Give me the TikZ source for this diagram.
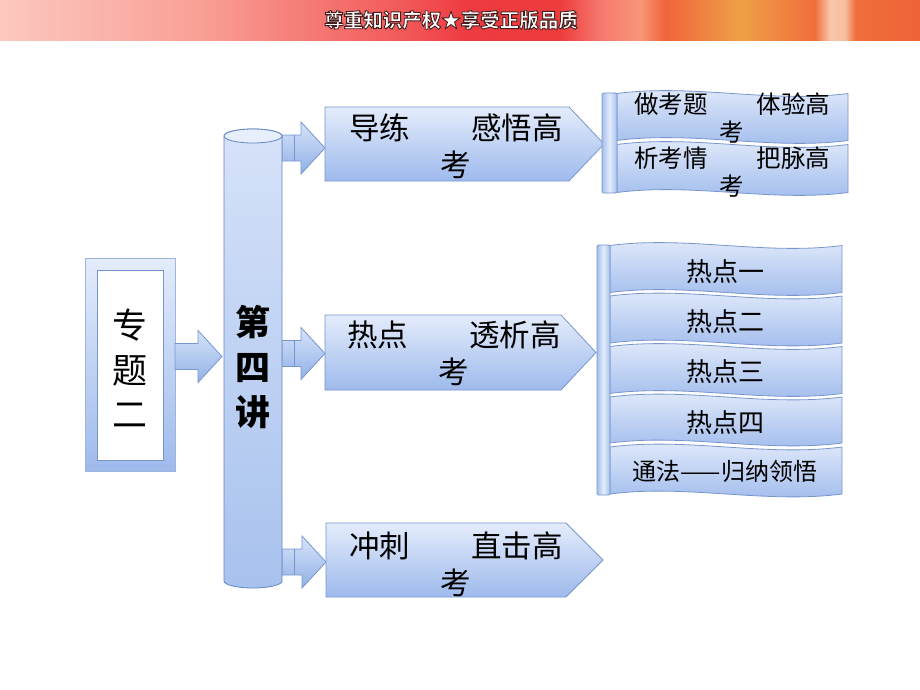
\documentclass[tikz,border=0pt]{standalone}
\usepackage{fontspec}
\newfontfamily\cjk{Noto Sans CJK SC}
\usetikzlibrary{calc}
\definecolor{bordc}{RGB}{120,150,205}
\definecolor{fillT}{RGB}{228,236,251}
\definecolor{fillB}{RGB}{158,186,236}
\definecolor{arrT}{RGB}{214,228,250}
\definecolor{arrB}{RGB}{145,176,230}
\definecolor{cylT}{RGB}{214,226,248}
\definecolor{cylB}{RGB}{168,194,238}
\definecolor{cylE}{RGB}{232,239,252}
\definecolor{cylD}{RGB}{100,135,195}
\definecolor{barE}{RGB}{165,192,238}
\definecolor{barM}{RGB}{228,236,251}
\pgfdeclarehorizontalshading{banner}{100bp}{%
rgb(0bp)=(0.988,0.784,0.753);
rgb(25bp)=(0.988,0.784,0.753);
rgb(35.87bp)=(0.976,0.627,0.588);
rgb(46.74bp)=(0.949,0.353,0.353);
rgb(50.54bp)=(0.933,0.227,0.251);
rgb(55.43bp)=(0.933,0.235,0.235);
rgb(57.61bp)=(0.961,0.471,0.431);
rgb(59.78bp)=(0.973,0.588,0.471);
rgb(61.14bp)=(0.941,0.392,0.235);
rgb(65.22bp)=(0.933,0.627,0.275);
rgb(69.29bp)=(0.941,0.431,0.235);
rgb(70.11bp)=(0.973,0.784,0.667);
rgb(70.92bp)=(0.965,0.745,0.627);
rgb(71.47bp)=(0.941,0.431,0.235);
rgb(75bp)=(0.933,0.392,0.216);
rgb(100bp)=(0.933,0.392,0.216)}
\newcommand\outlinedtext[1]{\special{pdf:code 2 Tr 0.9 w 0.27 0.12 0.12 RG}#1\special{pdf:code 0 Tr}}
\newcommand\penta[2]{%
 \path[boxshade] (#1.north west) -- ([xshift=-#2]#1.north east) -- (#1.east)
   -- ([xshift=-#2]#1.south east) -- (#1.south west) -- cycle;}
\newcommand\wavepath[1]{%
 \path[boxshade] (#1.north west) .. controls ([xshift=77pt,yshift=10pt]#1.north west)
   and ([xshift=-77pt,yshift=-10pt]#1.north east) .. (#1.north east) -- (#1.south east)
   .. controls ([xshift=-77pt,yshift=-10pt]#1.south east)
   and ([xshift=77pt,yshift=10pt]#1.south west) .. (#1.south west) -- cycle;}
\newcommand\blockarr[2]{%
 \path[barrow] let \p1=#1, \p2=#2 in
   (\x1,\y2+13pt) -- (\x2-24pt,\y2+13pt) -- (\x2-24pt,\y2+26pt) -- (\x2,\y2)
   -- (\x2-24pt,\y2-26pt) -- (\x2-24pt,\y2-13pt) -- (\x1,\y2-13pt) -- cycle;}
\newcommand\blockarrline[2]{%
 \blockarr{#1}{#2}%
 \draw[bordc, line width=0.7pt] let \p1=#1, \p2=#2 in
   (\x1+12pt,\y2+13pt) -- (\x1+12pt,\y2-13pt);}
\begin{document}
\begin{tikzpicture}[x=1pt,y=-1pt,
  frame/.style={inner sep=0pt, outer sep=0pt},
  boxshade/.style={top color=fillT, bottom color=fillB, draw=bordc, line width=0.8pt},
  barrow/.style={top color=arrT, bottom color=arrB, draw=bordc, line width=0.8pt},
  barstyle/.style={left color=barE, right color=barE, middle color=barM, draw=bordc, line width=0.8pt, rounded corners=1.5pt},
  bigtxt/.style={font=\cjk\fontsize{30.5}{37}\selectfont, align=center, inner sep=0pt},
  midtxt/.style={font=\cjk\fontsize{24.5}{28}\selectfont, align=center, inner sep=0pt},
  hottxt/.style={font=\cjk\fontsize{26}{30}\selectfont, inner sep=0pt},
  bannertxt/.style={font=\cjk\bfseries\fontsize{19.5}{21}\selectfont, inner sep=0pt}]
\useasboundingbox (0,0) rectangle (920,690);
\fill[white] (0,0) rectangle (920,690);
% banner
\path[shading=banner] (0,0) rectangle (920,41);
\node[bannertxt, text=white] (bannert) at (451,20) {\outlinedtext{尊重知识产权★享受正版品质}};
% left box
\node[frame, minimum width=90pt, minimum height=213pt, top color=fillT, bottom color=fillB, draw=bordc!70, line width=0.8pt] (zt) at (130,364.5) {};
\node[frame, minimum width=66pt, minimum height=190pt, fill=white, draw=bordc, line width=1pt] (ztin) at (130,365) {};
\node[font=\cjk\fontsize{35}{44.5}\selectfont, align=center, inner sep=0pt] (ztt) at (130,368.5) {专\\题\\二};
% cylinder (named frame)
\node[frame, minimum width=58pt, minimum height=445pt] (cyl) at (253,358.5) {};
% main boxes (frames)
\node[frame, minimum width=279pt, minimum height=74pt] (b1) at (464.5,144) {};
\node[frame, minimum width=271pt, minimum height=75pt] (b2) at (460.5,352.5) {};
\node[frame, minimum width=277pt, minimum height=74pt] (b3) at (464.5,560) {};
% arrows
\blockarr{(zt.east)}{([xshift=-2pt,yshift=2pt]cyl.west)}
\blockarrline{(cyl.east)}{([yshift=-4pt]b1.west)}
\blockarrline{(cyl.east)}{([yshift=-1pt]b2.west)}
\blockarrline{(cyl.east)}{([yshift=-2pt]b3.west)}
% cylinder
\path[top color=cylT, bottom color=cylB, draw=cylD, line width=0.8pt]
  (cyl.north west) -- (cyl.south west)
  arc[start angle=180, end angle=360, x radius=29pt, y radius=7pt]
  -- (cyl.north east)
  arc[start angle=0, end angle=180, x radius=29pt, y radius=7pt] -- cycle;
\path[fill=cylE, draw=cylD, line width=0.8pt] (cyl.north) ellipse[x radius=29pt, y radius=7pt];
\node[font=\cjk\bfseries\fontsize{35}{45}\selectfont, align=center, inner sep=0pt] (cylt) at (253,367) {第\\四\\讲};
% pentagon boxes
\penta{b1}{35pt}
\penta{b2}{35pt}
\penta{b3}{37pt}
\node[bigtxt] (b1t) at (456,146.5) {导练　　感悟高\\考};
\node[bigtxt] (b2t) at (454,353.5) {热点　　透析高\\考};
\node[bigtxt] (b3t) at (456,564) {冲刺　　直击高\\考};
% top right group
\node[frame, minimum width=15pt, minimum height=100pt] (bar1) at (609.5,143) {};
\node[frame, minimum width=231pt, minimum height=47pt] (wt1) at (732.5,117) {};
\node[frame, minimum width=231pt, minimum height=48pt] (wt2) at (732.5,168.5) {};
\wavepath{wt1}
\wavepath{wt2}
\path[barstyle] (bar1.north west) rectangle (bar1.south east);
\node[midtxt] (wt1t) at (732,118) {做考题　　体验高\\考};
\node[midtxt] (wt2t) at (732,172) {析考情　　把脉高\\考};
% middle right group
\node[frame, minimum width=13pt, minimum height=250pt] (bar2) at (603.5,370) {};
\node[frame, minimum width=232pt, minimum height=47pt] (h1) at (726,269) {};
\node[frame, minimum width=232pt, minimum height=47pt] (h2) at (726,319.5) {};
\node[frame, minimum width=232pt, minimum height=47pt] (h3) at (726,370) {};
\node[frame, minimum width=232pt, minimum height=46pt] (h4) at (726,420) {};
\node[frame, minimum width=232pt, minimum height=47pt] (h5) at (726,470.5) {};
\wavepath{h1}
\wavepath{h2}
\wavepath{h3}
\wavepath{h4}
\wavepath{h5}
\path[barstyle] (bar2.north west) rectangle (bar2.south east);
\node[hottxt] (h1t) at (725,272) {热点一};
\node[hottxt] (h2t) at (725,322) {热点二};
\node[hottxt] (h3t) at (725,372) {热点三};
\node[hottxt] (h4t) at (725,423) {热点四};
\node[font=\cjk\fontsize{24}{26}\selectfont, inner sep=0pt] (h5t) at (725,471) {通法——归纳领悟};
\end{tikzpicture}
\end{document}
